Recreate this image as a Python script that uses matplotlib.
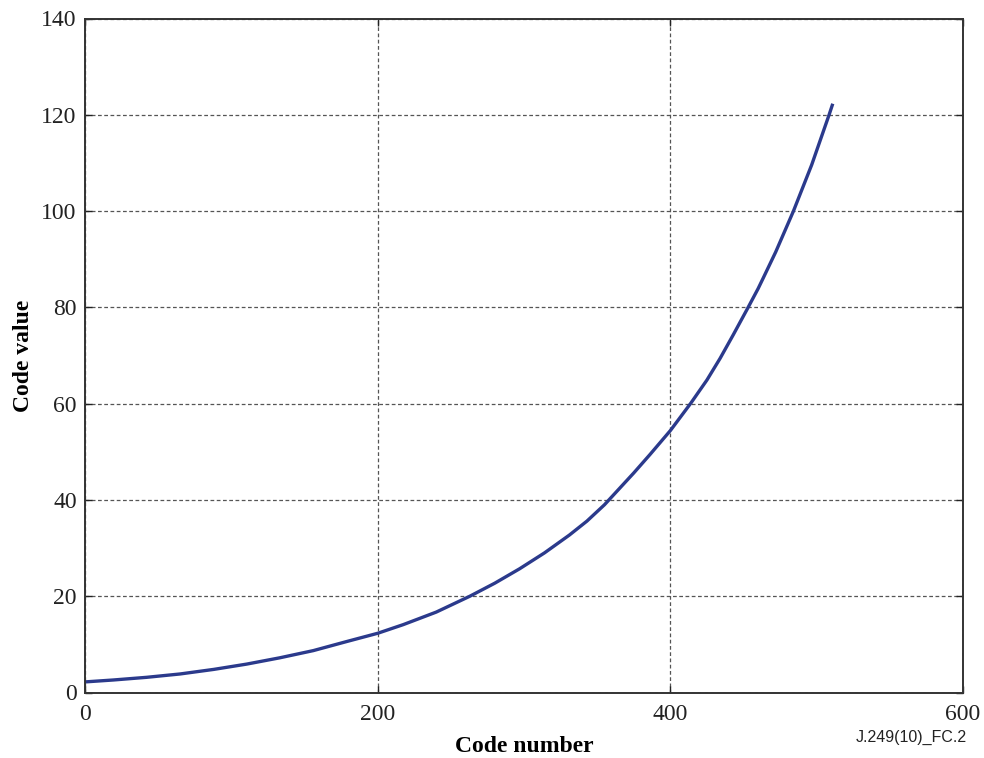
import matplotlib
matplotlib.use("Agg")
import matplotlib.pyplot as plt

# Code number vs. code value
code_number = [0, 19.4, 42, 65, 88, 110.5, 133, 156, 179, 200, 217.5, 240,
               263, 280, 297, 314, 331, 343, 355, 375, 386, 400, 414, 425,
               434, 443, 453, 460, 463.5, 472, 484, 496.6, 508.5, 511]
code_value = [2.2, 2.6, 3.15, 3.85, 4.8, 5.9, 7.2, 8.7, 10.6, 12.3, 14.1, 16.7,
              20.0, 22.7, 25.7, 29.0, 32.7, 35.6, 39.0, 45.6, 49.4, 54.4, 60.1,
              64.9, 69.4, 74.3, 79.9, 83.9, 86.1, 91.5, 99.9, 109.6, 120.0, 122.3]

x_ticks = [0, 200, 400, 600]
y_ticks = [0, 20, 40, 60, 80, 100, 120, 140]

plt.rcParams["font.family"] = ["Liberation Serif", "DejaVu Serif"]

fig = plt.figure(figsize=(9.84, 7.58), dpi=100)
ax = fig.add_axes([85 / 984, 65.5 / 758, 878 / 984, 674 / 758])

ax.plot(code_number, code_value, color="#2B3A8C", lw=2.4,
        solid_capstyle="butt", solid_joinstyle="round")

ax.set_xlim(0, 600)
ax.set_ylim(0, 140)
ax.set_xticks(x_ticks)
ax.set_yticks(y_ticks)
ax.tick_params(direction="in", length=5, width=1, colors="#222222",
               labelsize=17, top=True, right=True)
ax.tick_params(axis="x", pad=8)
ax.tick_params(axis="y", pad=6)

ax.grid(True, color="#555555", linestyle=(0, (3, 2)), linewidth=0.9)
for s in ax.spines.values():
    s.set_color("#333333")
    s.set_linewidth(1.4)

ax.set_xlabel("Code number", fontsize=17, fontweight="bold", labelpad=8)
ax.set_ylabel("Code value", fontsize=17, fontweight="bold", labelpad=5)

fig.text(967 / 984, 1 - 737 / 758, "J.249(10)_FC.2", ha="right", va="center",
         fontsize=11.5, family=["Liberation Sans", "DejaVu Sans"], color="#222222")

fig.savefig("out.png", dpi=100)
